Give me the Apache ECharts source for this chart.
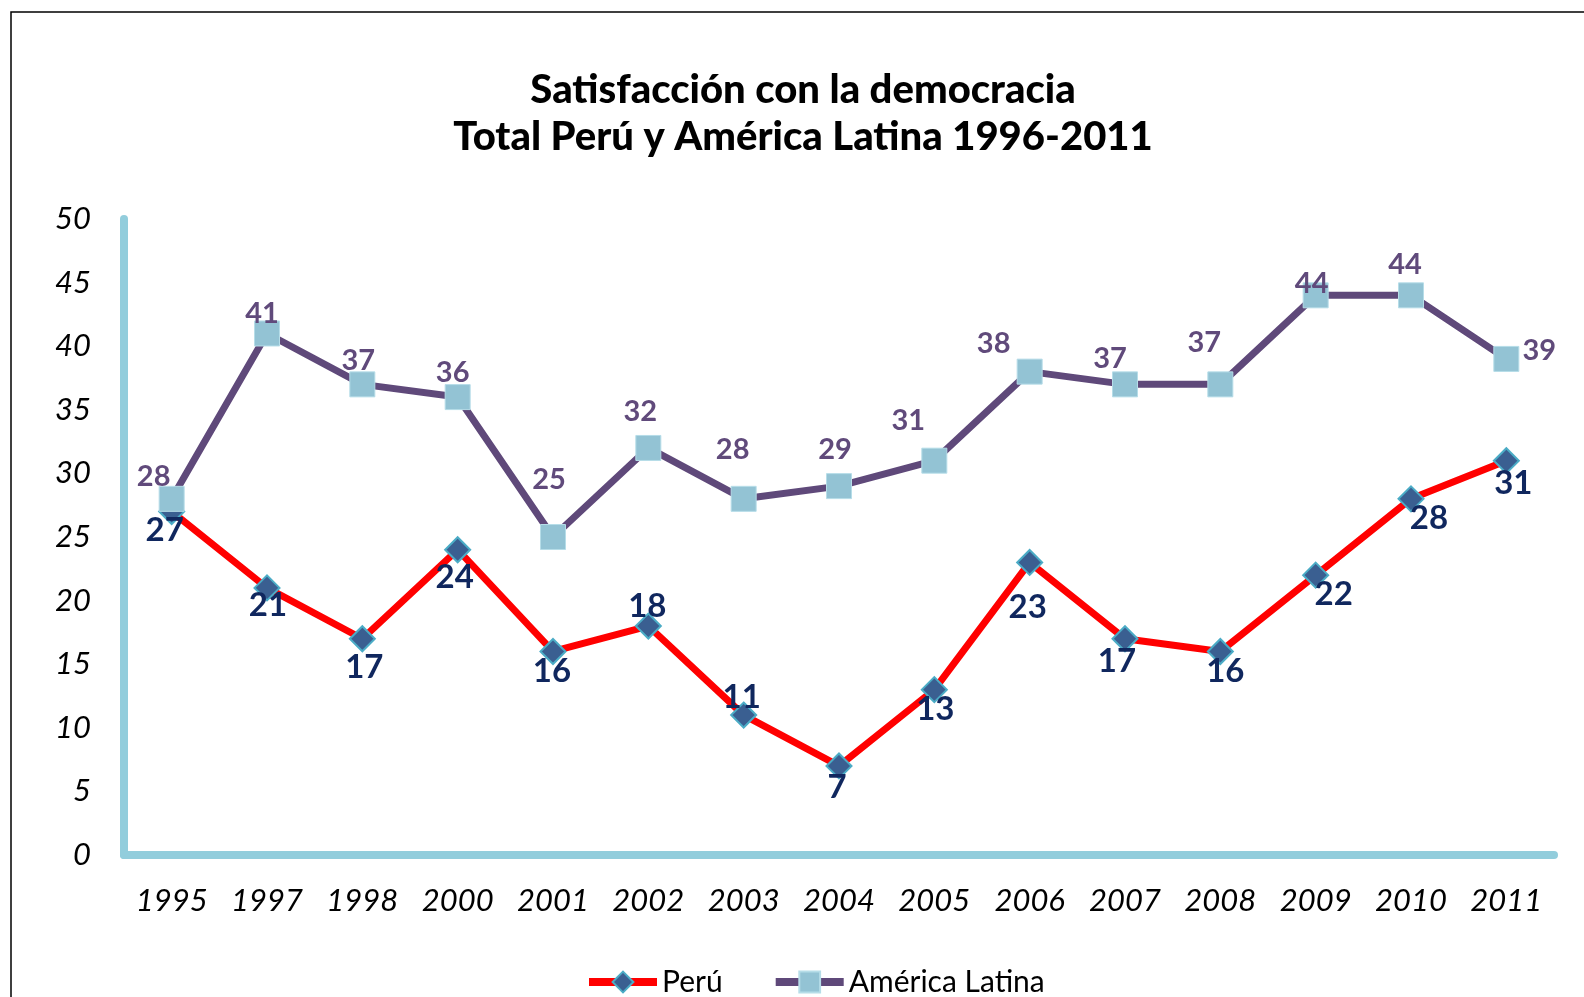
<!DOCTYPE html>
<html>
<head>
<meta charset="utf-8">
<script src="https://cdn.jsdelivr.net/npm/echarts@6/dist/echarts.min.js"></script>
<style>
  html, body { margin: 0; padding: 0; background: #fff; }
  #chart { width: 1584px; height: 997px; }
</style>
</head>
<body>
<div id="chart"></div>
<script>
const years = ['1995', '1997', '1998', '2000', '2001', '2002', '2003', '2004',
  '2005', '2006', '2007', '2008', '2009', '2010', '2011'];
const peru = [27, 21, 17, 24, 16, 18, 11, 7, 13, 23, 17, 16, 22, 28, 31];
const latam = [28, 41, 37, 36, 25, 32, 28, 29, 31, 38, 37, 37, 44, 44, 39];

// hand placed labels in the original, nudged from the point centre
const peruNudge = [[-7, 19], [1, 17], [2, 29], [-3, 28], [-1, 20], [-1, -20], [-2, -18], [-2, 21],
  [1, 20], [-2, 45], [-8, 23], [5, 20], [18, 19], [18, 20], [7, 23]];
const latamNudge = [[-18, -22], [-5, -20], [-4, -24], [-5, -24], [-4, -57], [-8, -36], [-11, -49], [-4, -36],
  [-26, -40], [-36, -28], [-15, -26], [-16, -42], [-4, -12], [-6, -31], [33, -8]];

const chart = echarts.init(document.getElementById('chart'));

chart.setOption({
  animation: false,
  title: {
    text: 'Satisfacción con la democracia\nTotal Perú y América Latina 1996-2011',
    left: 798,
    textAlign: 'center',
    top: 62,
    textStyle: {
      fontFamily: 'Lato',
      fontWeight: 900,
      fontSize: 40,
      lineHeight: 47,
      color: '#000'
    }
  },
  graphic: [{
    type: 'rect',
    shape: { x: 11, y: 12, width: 1700, height: 1100 },
    style: { fill: 'none', stroke: '#000', lineWidth: 1.5 },
    silent: true
  }],
  legend: {
    top: 967,
    left: 585,
    padding: 0,
    itemWidth: 68,
    itemHeight: 26,
    itemGap: 49,
    textStyle: { fontFamily: 'Lato', fontSize: 30, color: '#000' },
    lineStyle: { width: 8 },
    data: ['Perú', 'América Latina']
  },
  grid: {
    left: 124,
    right: 30,
    top: 219,
    bottom: 142
  },
  xAxis: {
    type: 'category',
    data: years,
    boundaryGap: true,
    axisLine: { lineStyle: { color: '#92cddc', width: 8 } },
    axisTick: { show: false },
    axisLabel: {
      margin: 30,
      fontFamily: 'Lato',
      fontStyle: 'italic',
      fontSize: 31,
      color: '#000'
    }
  },
  yAxis: {
    type: 'value',
    min: 0,
    max: 50,
    interval: 5,
    splitLine: { show: false },
    axisLine: { show: true, lineStyle: { color: '#92cddc', width: 8 } },
    axisTick: { show: false },
    axisLabel: {
      margin: 33,
      fontFamily: 'Lato',
      fontStyle: 'italic',
      fontSize: 31,
      color: '#000'
    }
  },
  series: [{
    name: 'Perú',
    type: 'line',
    data: peru.map((v, i) => ({
      value: v,
      label: { offset: peruNudge[i] }
    })),
    symbol: 'diamond',
    symbolSize: 25,
    z: 2,
    lineStyle: { color: '#ff0000', width: 7 },
    itemStyle: { color: '#3a5f91', borderColor: '#4bacc6', borderWidth: 2 },
    label: {
      show: true,
      position: 'inside',
      fontFamily: 'Lato',
      fontWeight: 'bold',
      fontSize: 33,
      color: '#10275e'
    }
  }, {
    name: 'América Latina',
    type: 'line',
    data: latam.map((v, i) => ({
      value: v,
      label: { offset: latamNudge[i] }
    })),
    symbol: 'rect',
    symbolSize: 25,
    z: 3,
    lineStyle: { color: '#5f497a', width: 7 },
    itemStyle: { color: '#93c3d4', borderColor: '#b6dde8', borderWidth: 1 },
    label: {
      show: true,
      position: 'inside',
      fontFamily: 'Lato',
      fontWeight: 'bold',
      fontSize: 29,
      color: '#604a7b'
    }
  }]
});
</script>
</body>
</html>
